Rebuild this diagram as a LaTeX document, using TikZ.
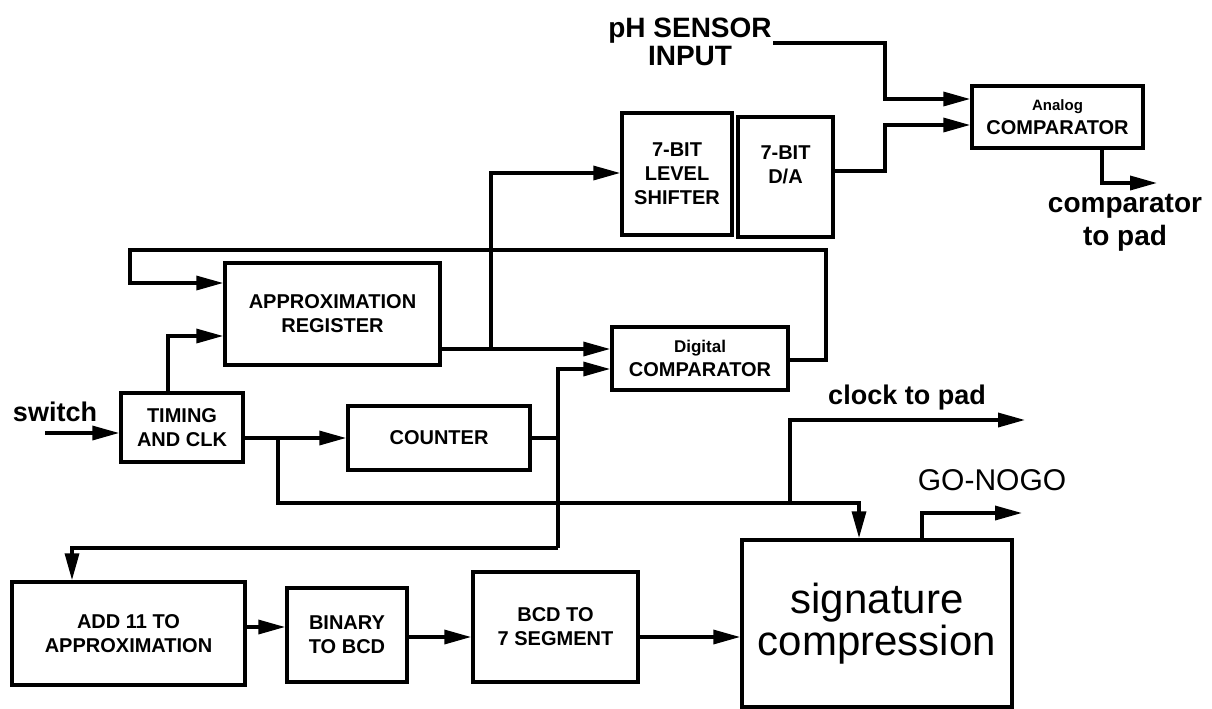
\documentclass[tikz,border=0pt]{standalone}
\usepackage{fontspec}
\setmainfont{Liberation Sans}
\usetikzlibrary{positioning}
\usetikzlibrary{arrows.meta}

\newcommand{\boxfont}{\fontsize{20}{24}\selectfont\bfseries}
\newcommand{\smallboxfont}{\fontsize{15}{18}\selectfont\bfseries}
\newcommand{\padfont}{\fontsize{27}{32}\selectfont\bfseries}
\newcommand{\bigfont}{\fontsize{42}{42}\selectfont}

\begin{document}
\begin{tikzpicture}[
        x=1pt, y=-1pt,
        blocknode/.style={rectangle, draw=black, line width=3.5pt, inner sep=0pt, align=center, font=\boxfont},
        labelnode/.style={inner sep=0pt, align=center, font=\padfont},
        wire/.style={line width=3.5pt},
        arrowline/.style={line width=3.5pt, -{Triangle[length=27pt,width=14pt]}},
    ]
    \useasboundingbox (0,0) rectangle (1212,709);

    % Objects
    \node[blocknode, minimum width=110, minimum height=122] (levelShifter) at (677,174) {7-BIT\\LEVEL\\SHIFTER};
    \node[blocknode, minimum width=95, minimum height=120] (dToA) at (785.5,177) {7-BIT\\D/A\\\mbox{}};
    \node[blocknode, minimum width=171, minimum height=62] (analogComp) at (1057.5,117) {{\smallboxfont Analog}\\COMPARATOR};
    \node[blocknode, minimum width=215, minimum height=102] (approxReg) at (332.5,314) {APPROXIMATION\\REGISTER};
    \node[blocknode, minimum width=176, minimum height=63] (digitalComp) at (700,358.5) {{\fontsize{17}{20}\selectfont Digital}\\COMPARATOR};
    \node[blocknode, minimum width=122, minimum height=69] (timingClk) at (182,427.5) {TIMING\\AND CLK};
    \node[blocknode, minimum width=182, minimum height=64] (counter) at (439,438) {COUNTER};
    \node[blocknode, minimum width=233, minimum height=103] (addEleven) at (128.5,633.5) {ADD 11 TO\\APPROXIMATION};
    \node[blocknode, minimum width=120, minimum height=94] (binaryBcd) at (347,635) {BINARY\\TO BCD};
    \node[blocknode, minimum width=165, minimum height=110] (bcdSeg) at (555.5,627) {BCD TO\\7 SEGMENT};
    \node[blocknode, minimum width=270, minimum height=167, font=\bigfont] (sigComp) at (877,623.5) {signature\\compression};

    % Labels
    \node[labelnode, font=\fontsize{28}{28}\selectfont\bfseries] (phLabel) at (690,42) {pH SENSOR\\INPUT};
    \node[labelnode] (switchLabel) at (55,412) {switch};
    \node[labelnode, font=\fontsize{28}{33}\selectfont\bfseries] (compPadLabel) at (1125,223) {comparator\\to pad};
    \node[labelnode] (clockLabel) at (907,398) {clock to pad};
    \node[labelnode, font=\fontsize{30}{30}\selectfont] (goLabel) at (992,480) {GO-NOGO};

    % Free ends
    \coordinate (phStart) at (773,43);
    \coordinate (switchStart) at (45,433);
    \coordinate (compOut) at (1157,183);
    \coordinate (clockOut) at (1025,420);
    \coordinate (goOut) at (1022,513);

    % Lines
    \draw[arrowline] (phStart) -- (885,43) -- (885,99) -- (analogComp.west |- 0,99);
    \draw[arrowline] (dToA.east |- 0,171) -- (885,171) -- (885,125) -- (analogComp.west |- 0,125);
    \draw[arrowline] (analogComp.south -| 1102,0) -- (1102,183) -- (compOut);
    \draw[arrowline] (digitalComp.east |- 0,360) -- (826,360) -- (826,250) -- (130,250) -- (130,283) -- (approxReg.west |- 0,283);
    \draw[arrowline] (timingClk.north -| 168,0) -- (168,336) -- (approxReg.west |- 0,336);
    \draw[arrowline] (switchStart) -- (timingClk.west |- switchStart);
    \draw[arrowline] (timingClk.east |- counter.west) -- (counter.west);
    \draw[arrowline] (278,438) -- (278,503) -- (859,503) -- (sigComp.north -| 859,0);
    \draw[arrowline] (790,503) -- (790,420) -- (clockOut);
    \draw[arrowline] (approxReg.east |- 0,349) -- (digitalComp.west |- 0,349);
    \draw[arrowline] (491,349) -- (491,173) -- (levelShifter.west |- 0,173);
    \draw[wire] (counter.east) -- (558,438);
    \draw[arrowline] (558,548) -- (558,369) -- (digitalComp.west |- 0,369);
    \draw[arrowline] (558,548) -- (72,548) -- (addEleven.north -| 72,0);
    \draw[arrowline] (addEleven.east |- 0,627) -- (binaryBcd.west |- 0,627);
    \draw[arrowline] (binaryBcd.east |- 0,637) -- (bcdSeg.west |- 0,637);
    \draw[arrowline] (bcdSeg.east |- 0,637) -- (sigComp.west |- 0,637);
    \draw[arrowline] (sigComp.north -| 922,0) -- (922,513) -- (goOut);

\end{tikzpicture}
\end{document}
